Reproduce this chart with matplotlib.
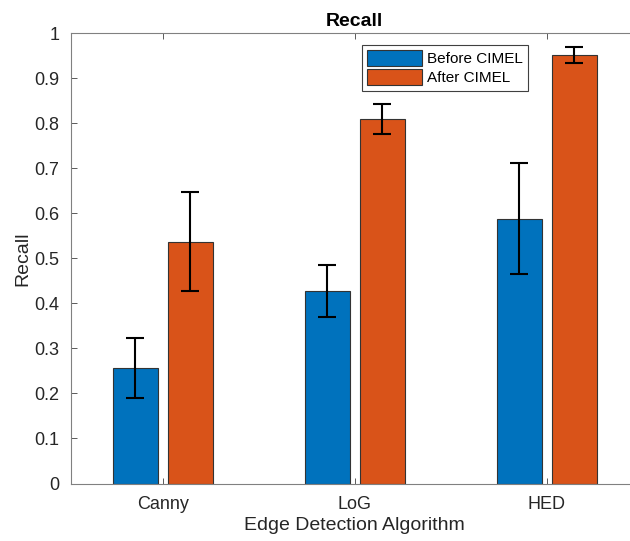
import matplotlib
matplotlib.use("Agg")
import matplotlib.pyplot as plt
import numpy as np

plt.rcParams['font.family'] = ['Liberation Sans', 'DejaVu Sans']

categories = ["Canny", "LoG", "HED"]
series_names = ["Before CIMEL", "After CIMEL"]
before_vals = [0.256, 0.428, 0.588]
before_err = [0.067, 0.058, 0.123]
after_vals = [0.537, 0.809, 0.952]
after_err = [0.110, 0.034, 0.018]
yticks = [0, 0.1, 0.2, 0.3, 0.4, 0.5, 0.6, 0.7, 0.8, 0.9, 1]
ytick_labels = ["0", "0.1", "0.2", "0.3", "0.4", "0.5", "0.6", "0.7", "0.8", "0.9", "1"]

fig = plt.figure(figsize=(6.3, 5.41), dpi=100)
ax = fig.add_axes([70.7 / 630, (541 - 483.5) / 541, (639 - 70.7) / 630, (483.5 - 33) / 541])

x = np.arange(1, len(categories) + 1)
off = 0.143
w = 0.234
c_blue = '#0072BD'
c_orange = '#D95319'
ax.bar(x - off, before_vals, w, color=c_blue, edgecolor='#333333', linewidth=0.8, label=series_names[0], zorder=2)
ax.bar(x + off, after_vals, w, color=c_orange, edgecolor='#333333', linewidth=0.8, label=series_names[1], zorder=2)
ax.errorbar(x - off, before_vals, yerr=before_err, fmt='none', ecolor='black', elinewidth=1.5, capsize=6.5, capthick=1.5, zorder=3)
ax.errorbar(x + off, after_vals, yerr=after_err, fmt='none', ecolor='black', elinewidth=1.5, capsize=6.5, capthick=1.5, zorder=3)

ax.set_xlim(0.52, 3.48)
ax.set_ylim(0, 1)
ax.set_xticks(x)
ax.set_xticklabels(categories)
ax.set_yticks(yticks)
ax.set_yticklabels(ytick_labels)
ax.tick_params(direction='in', length=4, width=0.6, colors='#404040', labelcolor='#262626', labelsize=13, top=True, right=True)
ax.tick_params(axis='x', pad=9)
ax.tick_params(axis='y', pad=8)
for s in ax.spines.values():
    s.set_color('#808080')
    s.set_linewidth(0.8)

ax.set_title("Recall", fontsize=14, fontweight='bold', pad=5, color='black')
ax.set_xlabel("Edge Detection Algorithm", fontsize=14, color='#262626', labelpad=3)
ax.set_ylabel("Recall", fontsize=14, color='#262626', labelpad=2)

leg = ax.legend(loc='upper left', bbox_to_anchor=(362 / 630, 1 - 45 / 541), bbox_transform=fig.transFigure,
                fancybox=False, framealpha=1, edgecolor='#404040', fontsize=11,
                handlelength=3.6, handleheight=1.2, handletextpad=0.3, borderpad=0.35, labelspacing=0.2, borderaxespad=0)
leg.get_frame().set_linewidth(0.8)

fig.savefig("out.png", dpi=100)
